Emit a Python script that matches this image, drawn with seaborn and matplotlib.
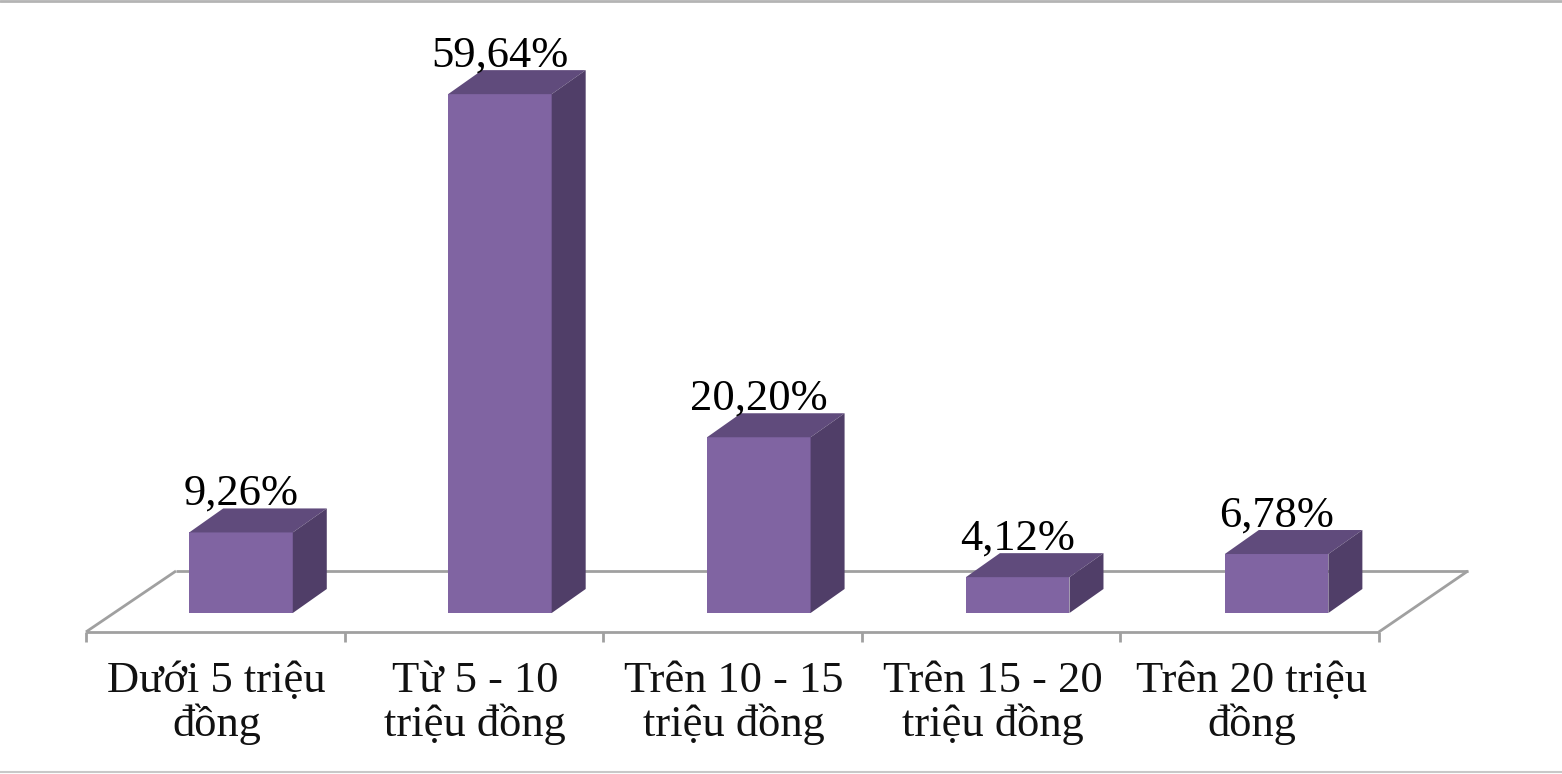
import matplotlib
matplotlib.use("Agg")
import matplotlib.pyplot as plt
from matplotlib.patches import Polygon
from matplotlib.lines import Line2D
import seaborn as sns
import pandas as pd

categories = ["Dưới 5 triệu\nđồng", "Từ 5 - 10\ntriệu đồng", "Trên 10 - 15\ntriệu đồng",
              "Trên 15 - 20\ntriệu đồng", "Trên 20 triệu\nđồng"]
values = [9.26, 59.64, 20.20, 4.12, 6.78]
value_labels = ["9,26%", "59,64%", "20,20%", "4,12%", "6,78%"]

FRONT = "#8064A2"
TOP = "#604B7C"
SIDE = "#503E68"
FLOOR = "#A0A0A0"

sns.set_theme(style="white")
plt.rcParams["font.family"] = ["Liberation Serif", "DejaVu Serif"]

fig = plt.figure(figsize=(15.62, 7.74), dpi=100)
ax = fig.add_axes([0, 0, 1, 1])

df = pd.DataFrame({"cat": categories, "val": values})
sns.barplot(data=df, x="cat", y="val", width=0.4, color=FRONT, saturation=1,
            linewidth=0, ax=ax, zorder=3)

# pixel mapping: x_px = 241 + 258.9*x ; y_px = 613 - 8.7*y
ax.set_xlim(-241 / 258.9, (1562 - 241) / 258.9)
ax.set_ylim((613 - 774) / 8.7, 613 / 8.7)
ax.axis("off")

# bar depth offsets (data units)
bdx, bdy = 34 / 258.9, 24 / 8.7
# floor
fy0, fy1 = -2.18, 4.83
fl_front = (-0.599, 4.395)
fl_back = (-0.251, 4.739)
floor_kw = dict(color=FLOOR, lw=2.0, solid_capstyle="butt", zorder=1)
ax.plot([fl_front[0], fl_front[1]], [fy0, fy0], **floor_kw)
ax.plot([fl_back[0], fl_back[1]], [fy1, fy1], **floor_kw)
ax.plot([fl_front[0], fl_back[0]], [fy0, fy1], **floor_kw)
ax.plot([fl_front[1], fl_back[1]], [fy0, fy1], **floor_kw)
for k in range(len(categories) + 1):
    xt = fl_front[0] + k * (fl_front[1] - fl_front[0]) / len(categories)
    ax.plot([xt, xt], [fy0, -3.33], **floor_kw)

for i, p in enumerate(ax.patches):
    x0 = p.get_x()
    w = p.get_width()
    h = p.get_height()
    x1 = x0 + w
    top = Polygon([(x0, h), (x1, h), (x1 + bdx, h + bdy), (x0 + bdx, h + bdy)],
                  closed=True, facecolor=TOP, edgecolor="none", zorder=3)
    side = Polygon([(x1, 0), (x1 + bdx, bdy), (x1 + bdx, h + bdy), (x1, h)],
                   closed=True, facecolor=SIDE, edgecolor="none", zorder=3)
    ax.add_patch(top)
    ax.add_patch(side)
    ax.text(x0 + w / 2, h + bdy + 0.45, value_labels[i], ha="center", va="baseline",
            fontsize=32, color="black", zorder=5)

for i, c in enumerate(categories):
    ax.text(i - 0.095, -5.5, c, ha="center", va="top", fontsize=32,
            linespacing=1.08, color="#111111")

fig.add_artist(Line2D([0, 1], [0.9985, 0.9985], transform=fig.transFigure,
                      color="#B4B4B4", lw=2))
fig.add_artist(Line2D([0, 1], [0.0025, 0.0025], transform=fig.transFigure,
                      color="#C8C8C8", lw=1.5))

fig.savefig("out.png", dpi=100, facecolor="white")
